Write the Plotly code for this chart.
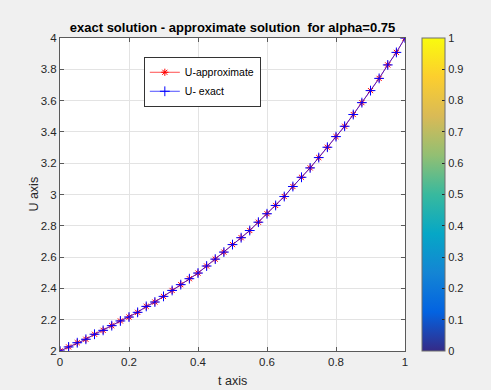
import plotly.graph_objects as go

t_values = [i * 0.025 for i in range(41)]
u_exact = [2.000, 2.026, 2.053, 2.075, 2.107, 2.132, 2.162, 2.192, 2.217, 2.247,
           2.285, 2.313, 2.349, 2.387, 2.424, 2.462, 2.498, 2.543, 2.587, 2.632,
           2.680, 2.724, 2.770, 2.823, 2.877, 2.930, 2.987, 3.051, 3.110, 3.170,
           3.236, 3.302, 3.370, 3.436, 3.511, 3.587, 3.664, 3.742, 3.828, 3.908, 4.000]
u_approx = list(u_exact)

x_ticks = [0, 0.2, 0.4, 0.6, 0.8, 1]
y_ticks = [2, 2.2, 2.4, 2.6, 2.8, 3, 3.2, 3.4, 3.6, 3.8, 4]
cbar_ticks = [0, 0.1, 0.2, 0.3, 0.4, 0.5, 0.6, 0.7, 0.8, 0.9, 1]

parula = [[0.0, '#352a87'], [0.125, '#0363e1'], [0.25, '#1485d4'], [0.375, '#06a7c6'],
          [0.5, '#38b99e'], [0.625, '#92bf73'], [0.75, '#d9ba56'], [0.875, '#fcce2e'],
          [1.0, '#f9fb0e']]

FONT = "Liberation Sans, Arial, sans-serif"
AX = '#262626'

fig = go.Figure()
fig.add_trace(go.Scatter(
    x=t_values, y=u_approx, mode='lines+markers', name='U-approximate',
    line=dict(color='#FF0000', width=0.7),
    marker=dict(symbol='asterisk-open', size=6, line=dict(color='#FF0000', width=1)),
))
fig.add_trace(go.Scatter(
    x=t_values, y=u_exact, mode='lines+markers', name='U- exact',
    line=dict(color='#0000FF', width=0.7),
    marker=dict(symbol='cross-thin-open', size=7, line=dict(color='#0000FF', width=1)),
))
fig.add_trace(go.Scatter(
    x=[None], y=[None], mode='markers', showlegend=False, hoverinfo='skip',
    marker=dict(color=[0], cmin=0, cmax=1, colorscale=parula, showscale=True,
                colorbar=dict(x=1.048, xanchor='left', y=0, yanchor='bottom', len=1,
                              lenmode='fraction', thickness=23, outlinecolor='#6e6e6e',
                              outlinewidth=1, ticks='inside', ticklen=3, tickcolor=AX,
                              tickvals=cbar_ticks, ticklabelposition='outside',
                              tickfont=dict(family=FONT, size=11, color=AX),
                              xpad=0, ypad=0)),
))

axis_common = dict(
    showgrid=True, gridcolor='#E3E3E3', gridwidth=1, zeroline=False,
    showline=True, linecolor='#5a5a5a', linewidth=1, mirror='ticks',
    ticks='inside', ticklen=4, tickcolor='#5a5a5a', automargin=False,
    tickfont=dict(family=FONT, size=11.5, color=AX),
)

fig.update_layout(
    width=491, height=390,
    margin=dict(l=60, r=86, t=38, b=39, autoexpand=False),
    paper_bgcolor='#F0F0F0', plot_bgcolor='#FFFFFF',
    font=dict(family=FONT, color=AX),
    title=dict(text='<b>exact solution - approximate solution  for alpha=0.75</b>',
               x=0.5, xref='paper', xanchor='center', y=1 - 27 / 390, yanchor='middle',
               font=dict(family=FONT, size=13, color='#000000')),
    xaxis=dict(range=[0, 1], tickvals=x_ticks, **axis_common),
    yaxis=dict(range=[2, 4], tickvals=y_ticks, **axis_common),
    legend=dict(x=0.243, y=0.94, xanchor='left', yanchor='top',
                bgcolor='#FFFFFF', bordercolor='#333333', borderwidth=1,
                font=dict(family=FONT, size=10.5, color='#000000'),
                tracegroupgap=0, itemwidth=30),
    showlegend=True,
    annotations=[
        dict(text='t axis', xref='paper', yref='paper', x=0.5, y=-0.097,
             xanchor='center', yanchor='middle', showarrow=False,
             font=dict(family=FONT, size=12.5, color=AX)),
        dict(text='U axis', xref='paper', yref='paper', x=-0.078, y=0.5,
             xanchor='center', yanchor='middle', showarrow=False, textangle=-90,
             font=dict(family=FONT, size=12.5, color=AX)),
    ],
)

fig.write_html("out.html")
